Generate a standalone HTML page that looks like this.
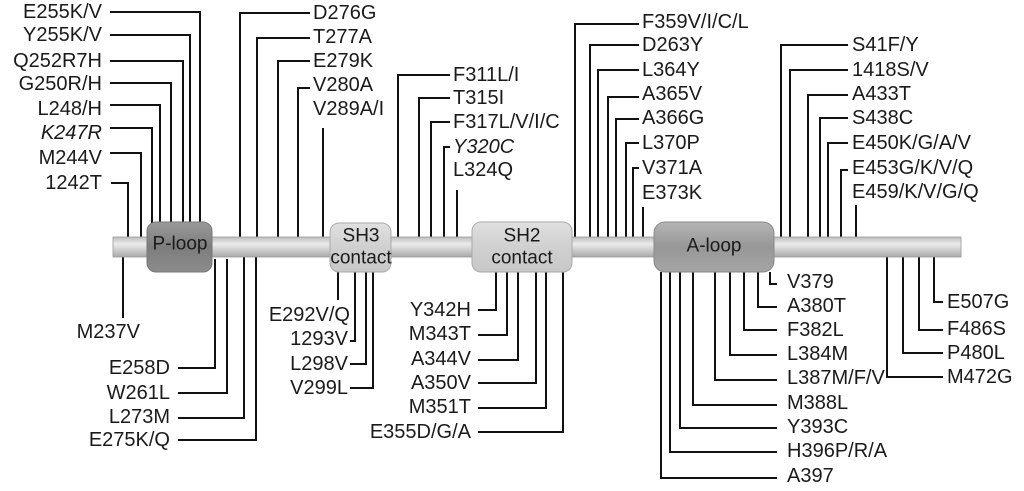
<!DOCTYPE html>
<html><head><meta charset="utf-8"><style>
html,body{margin:0;padding:0;background:#fff;}
svg{display:block;}
text{font-family:"Liberation Sans",sans-serif;font-size:20px;fill:#1a1a1a;dominant-baseline:central;}
.r{text-anchor:end;}
.b{font-size:19px;text-anchor:middle;}
</style></head><body>
<svg width="1024" height="491" viewBox="0 0 1024 491" xmlns="http://www.w3.org/2000/svg">
<defs>
<linearGradient id="bar" x1="0" y1="0" x2="0" y2="1">
<stop offset="0" stop-color="#bdbdbd"/><stop offset="0.35" stop-color="#ececec"/><stop offset="1" stop-color="#a9a9a9"/></linearGradient>
<linearGradient id="dk" x1="0" y1="0" x2="0" y2="1">
<stop offset="0" stop-color="#9a9a9a"/><stop offset="0.5" stop-color="#7d7d7d"/><stop offset="1" stop-color="#8c8c8c"/></linearGradient>
<linearGradient id="md" x1="0" y1="0" x2="0" y2="1">
<stop offset="0" stop-color="#b5b5b5"/><stop offset="0.5" stop-color="#979797"/><stop offset="1" stop-color="#a5a5a5"/></linearGradient>
<linearGradient id="lt" x1="0" y1="0" x2="0" y2="1">
<stop offset="0" stop-color="#e0e0e0"/><stop offset="0.5" stop-color="#d0d0d0"/><stop offset="1" stop-color="#c8c8c8"/></linearGradient>
</defs>
<g stroke="#111" stroke-width="2" fill="none">
<polyline points="110,12 200,12 200,237"/>
<polyline points="110,35 190,35 190,237"/>
<polyline points="110,61 183,61 183,237"/>
<polyline points="110,83 171,83 171,237"/>
<polyline points="110,105 160,105 160,237"/>
<polyline points="110,128 152,128 152,237"/>
<polyline points="110,153 141,153 141,237"/>
<polyline points="111,183 128,183 128,237"/>
<polyline points="310,13 240,13 240,237"/>
<polyline points="310,38 257,38 257,237"/>
<polyline points="310,61 278,61 278,237"/>
<polyline points="310,88 298,88 298,237"/>
<line x1="323" y1="128" x2="323" y2="237"/>
<polyline points="450,75 398,75 398,237"/>
<polyline points="450,98 419,98 419,237"/>
<polyline points="450,122 431,122 431,237"/>
<polyline points="450,147 444,147 444,237"/>
<line x1="457" y1="190" x2="457" y2="237"/>
<polyline points="639,24 575,24 575,237"/>
<polyline points="639,45 590,45 590,237"/>
<polyline points="639,70 598,70 598,237"/>
<polyline points="639,97 608,97 608,237"/>
<polyline points="639,119 616,119 616,237"/>
<polyline points="639,143 626,143 626,237"/>
<polyline points="639,168 633,168 633,237"/>
<line x1="643" y1="207" x2="643" y2="237"/>
<polyline points="848,45 781,45 781,237"/>
<polyline points="848,70 790,70 790,237"/>
<polyline points="848,95 808,95 808,237"/>
<polyline points="848,118 820,118 820,237"/>
<polyline points="848,143 828,143 828,237"/>
<polyline points="848,170 841,170 841,237"/>
<line x1="856" y1="205" x2="856" y2="237"/>
<line x1="123" y1="257" x2="123" y2="318"/>
<polyline points="178,368 215,368 215,259"/>
<polyline points="178,393 227,393 227,259"/>
<polyline points="178,418 244,418 244,257"/>
<polyline points="178,440 256,440 256,257"/>
<line x1="338" y1="272" x2="338" y2="300"/>
<polyline points="350,341 355,341 355,272"/>
<polyline points="350,364 366,364 366,272"/>
<polyline points="350,388 373,388 373,272"/>
<polyline points="478,310 496,310 496,272"/>
<polyline points="478,335 507,335 507,272"/>
<polyline points="478,360 518,360 518,272"/>
<polyline points="478,383 536,383 536,272"/>
<polyline points="478,408 546,408 546,272"/>
<polyline points="478,432 563,432 563,272"/>
<polyline points="770,272 770,284 777,284"/>
<polyline points="777,307 758,307 758,272"/>
<polyline points="777,330 744,330 744,272"/>
<polyline points="777,355 730,355 730,272"/>
<polyline points="777,380 715,380 715,272"/>
<polyline points="777,405 693,405 693,272"/>
<polyline points="777,428 680,428 680,272"/>
<polyline points="777,452 670,452 670,272"/>
<polyline points="777,478 661,478 661,272"/>
<polyline points="943,302 934,302 934,257"/>
<polyline points="943,330 919,330 919,257"/>
<polyline points="943,353 903,353 903,257"/>
<polyline points="943,377 887,377 887,257"/>
</g>
<rect x="113" y="237" width="848" height="20" fill="url(#bar)" stroke="#999" stroke-width="0.8"/>
<rect x="147" y="222" width="65" height="50" rx="9" fill="url(#dk)" stroke="#777"/>
<rect x="330" y="223" width="61" height="49" rx="9" fill="url(#lt)" stroke="#aaa"/>
<rect x="472" y="222" width="100" height="50" rx="9" fill="url(#lt)" stroke="#aaa"/>
<rect x="654" y="222" width="120" height="50" rx="11" fill="url(#md)" stroke="#888"/>
<text class="b" x="180" y="244">P-loop</text>
<text class="b" x="361" y="236">SH3</text>
<text class="b" x="361" y="258">contact</text>
<text class="b" x="522" y="236">SH2</text>
<text class="b" x="522" y="258">contact</text>
<text class="b" x="714" y="246">A-loop</text>
<text class="r" x="102" y="12">E255K/V</text>
<text class="r" x="102" y="35">Y255K/V</text>
<text class="r" x="102" y="61">Q252R7H</text>
<text class="r" x="102" y="84">G250R/H</text>
<text class="r" x="102" y="109">L248/H</text>
<text class="r" x="102" y="133" font-style="italic">K247R</text>
<text class="r" x="102" y="158">M244V</text>
<text class="r" x="102" y="183">1242T</text>
<text x="313" y="13">D276G</text>
<text x="313" y="37">T277A</text>
<text x="313" y="61">E279K</text>
<text x="313" y="85">V280A</text>
<text x="313" y="109">V289A/I</text>
<text x="453" y="75">F311L/I</text>
<text x="453" y="98">T315I</text>
<text x="453" y="122">F317L/V/I/C</text>
<text x="453" y="147" font-style="italic">Y320C</text>
<text x="453" y="170">L324Q</text>
<text x="642" y="22">F359V/I/C/L</text>
<text x="642" y="45">D263Y</text>
<text x="642" y="70">L364Y</text>
<text x="642" y="94">A365V</text>
<text x="642" y="118">A366G</text>
<text x="642" y="143">L370P</text>
<text x="642" y="168">V371A</text>
<text x="642" y="193">E373K</text>
<text x="852" y="45">S41F/Y</text>
<text x="852" y="70">1418S/V</text>
<text x="852" y="94">A433T</text>
<text x="852" y="118">S438C</text>
<text x="852" y="143">E450K/G/A/V</text>
<text x="852" y="168">E453G/K/V/Q</text>
<text x="852" y="192">E459/K/V/G/Q</text>
<text class="r" x="140" y="332">M237V</text>
<text class="r" x="170" y="368">E258D</text>
<text class="r" x="170" y="393">W261L</text>
<text class="r" x="170" y="417">L273M</text>
<text class="r" x="170" y="440">E275K/Q</text>
<text class="r" x="350" y="315">E292V/Q</text>
<text class="r" x="348" y="339">1293V</text>
<text class="r" x="348" y="364">L298V</text>
<text class="r" x="348" y="388">V299L</text>
<text class="r" x="471" y="310">Y342H</text>
<text class="r" x="471" y="334">M343T</text>
<text class="r" x="471" y="359">A344V</text>
<text class="r" x="471" y="383">A350V</text>
<text class="r" x="471" y="407">M351T</text>
<text class="r" x="471" y="432">E355D/G/A</text>
<text x="787" y="282">V379</text>
<text x="787" y="306">A380T</text>
<text x="787" y="330">F382L</text>
<text x="787" y="354">L384M</text>
<text x="787" y="378">L387M/F/V</text>
<text x="787" y="403">M388L</text>
<text x="787" y="427">Y393C</text>
<text x="787" y="451">H396P/R/A</text>
<text x="787" y="476">A397</text>
<text x="947" y="302">E507G</text>
<text x="947" y="329">F486S</text>
<text x="947" y="353">P480L</text>
<text x="947" y="377">M472G</text>
</svg>
</body></html>
